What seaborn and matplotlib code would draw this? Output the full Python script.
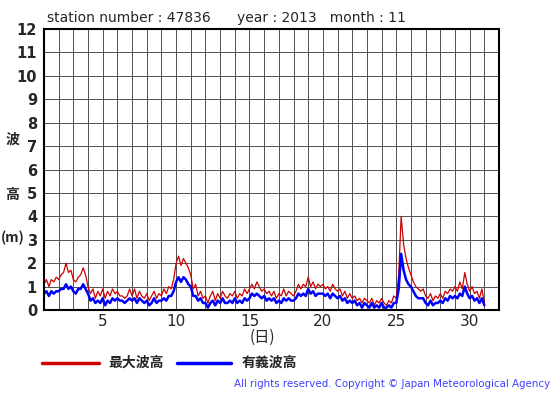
import numpy as np
import pandas as pd
import seaborn as sns
import matplotlib.pyplot as plt
from matplotlib.lines import Line2D

# 4-hourly wave heights (m), day 1 00h .. day 31 00h
max_wave = [
    1.1, 1.3, 1.0, 1.3, 1.2, 1.4,
    1.3, 1.5, 1.6, 2.0, 1.6, 1.7,
    1.3, 1.2, 1.4, 1.5, 1.8, 1.5,
    1.0, 0.7, 0.9, 0.5, 0.8, 0.6,
    0.9, 0.5, 0.8, 0.6, 0.9, 0.7,
    0.8, 0.6, 0.6, 0.5, 0.6, 0.9,
    0.6, 0.9, 0.5, 0.8, 0.6, 0.5,
    0.7, 0.4, 0.6, 0.8, 0.5, 0.7,
    0.6, 0.9, 0.7, 1.0, 0.9, 1.3,
    2.0, 2.3, 1.9, 2.2, 2.0, 1.8,
    1.5, 0.9, 1.1, 0.6, 0.8, 0.5,
    0.6, 0.3, 0.6, 0.8, 0.4, 0.7,
    0.5, 0.8, 0.6, 0.5, 0.7, 0.6,
    0.8, 0.5, 0.7, 0.6, 0.9, 0.7,
    0.9, 1.1, 0.9, 1.2, 1.0, 0.8,
    0.9, 0.7, 0.8, 0.6, 0.8, 0.5,
    0.7, 0.6, 0.9, 0.6, 0.8, 0.7,
    0.6, 0.8, 1.1, 0.9, 1.1, 1.0,
    1.4, 1.0, 1.2, 0.9, 1.1, 1.0,
    1.1, 0.9, 1.0, 0.8, 1.1, 0.9,
    0.8, 0.9, 0.6, 0.8, 0.5, 0.7,
    0.5, 0.6, 0.4, 0.5, 0.3, 0.5,
    0.4, 0.3, 0.5, 0.2, 0.4, 0.3,
    0.5, 0.3, 0.2, 0.4, 0.3, 0.6,
    0.5, 1.5, 4.0, 2.8, 2.2, 1.8,
    1.5, 1.2, 1.0, 0.9, 0.8, 0.9,
    0.6, 0.5, 0.7, 0.4, 0.6, 0.5,
    0.7, 0.5, 0.8, 0.7, 0.9, 0.8,
    1.0, 0.8, 1.2, 0.9, 1.6, 1.1,
    0.8, 1.0, 0.7, 0.8, 0.5, 0.9,
    0.3,
]
sig_wave = [
    0.7, 0.8, 0.6, 0.8, 0.7, 0.8,
    0.8, 0.9, 0.9, 1.1, 0.9, 1.0,
    0.8, 0.7, 0.9, 0.9, 1.1, 0.9,
    0.7, 0.4, 0.5, 0.3, 0.4, 0.3,
    0.5, 0.2, 0.4, 0.3, 0.5, 0.4,
    0.5, 0.4, 0.4, 0.3, 0.4, 0.5,
    0.4, 0.5, 0.3, 0.5, 0.4, 0.3,
    0.4, 0.2, 0.3, 0.5, 0.3, 0.4,
    0.4, 0.5, 0.4, 0.6, 0.6, 0.8,
    1.2, 1.4, 1.2, 1.4, 1.3, 1.1,
    1.0, 0.6, 0.6, 0.4, 0.5, 0.3,
    0.3, 0.1, 0.3, 0.4, 0.2, 0.4,
    0.3, 0.5, 0.3, 0.3, 0.4, 0.3,
    0.5, 0.3, 0.4, 0.3, 0.5, 0.4,
    0.5, 0.7, 0.6, 0.7, 0.6, 0.5,
    0.6, 0.4, 0.5, 0.4, 0.5, 0.3,
    0.4, 0.3, 0.5, 0.4, 0.5, 0.4,
    0.4, 0.5, 0.7, 0.6, 0.7, 0.6,
    0.9, 0.7, 0.8, 0.6, 0.7, 0.7,
    0.7, 0.6, 0.7, 0.5, 0.7, 0.6,
    0.5, 0.6, 0.4, 0.5, 0.3, 0.4,
    0.3, 0.4, 0.2, 0.3, 0.1, 0.3,
    0.2, 0.1, 0.3, 0.1, 0.2, 0.1,
    0.3, 0.1, 0.1, 0.2, 0.1, 0.3,
    0.3, 0.9, 2.4, 1.7, 1.3, 1.1,
    1.0, 0.8, 0.6, 0.5, 0.5, 0.5,
    0.3, 0.2, 0.4, 0.2, 0.3, 0.3,
    0.4, 0.3, 0.5, 0.4, 0.6, 0.5,
    0.6, 0.5, 0.7, 0.6, 1.0, 0.7,
    0.5, 0.6, 0.4, 0.5, 0.3, 0.5,
    0.2,
]
x_ticks = [5, 10, 15, 20, 25, 30]
y_ticks = list(range(0, 13))
title = "station number : 47836      year : 2013   month : 11"
legend_labels = ["最大波高", "有義波高"]
red, blue = "#cc0000", "#0000ff"

days = 1 + np.arange(len(max_wave)) / 6
df = pd.DataFrame({"day": days, "max": max_wave, "sig": sig_wave})

sns.set_style("white")
plt.rcParams["font.family"] = ["DejaVu Sans"]
jp = ["Noto Sans CJK JP", "DejaVu Sans"]

fig = plt.figure(figsize=(5.55, 3.95), dpi=100)
ax = fig.add_axes([44 / 555, 1 - 310 / 395, 455 / 555, 281 / 395])

sns.lineplot(data=df, x="day", y="max", color=red, lw=0.9, ax=ax)
sns.lineplot(data=df, x="day", y="sig", color=blue, lw=1.8, ax=ax)

ax.set_xlim(1, 32)
ax.set_ylim(0, 12)
ax.set_xticks(np.arange(1, 33), minor=True)
ax.set_xticks(x_ticks)
ax.set_yticks(y_ticks)
ax.grid(True, which="both", axis="x", color="#505050", lw=0.7)
ax.grid(True, which="major", axis="y", color="#505050", lw=0.7)
ax.set_axisbelow(True)
for s in ax.spines.values():
    s.set_color("black")
    s.set_linewidth(1.5)
ax.tick_params(axis="x", which="both", length=0, labelsize=11, pad=3)
ax.tick_params(axis="y", length=3, width=1, labelsize=10.5, pad=2)
for t in ax.get_yticklabels():
    t.set_fontweight("bold")
ax.set_xlabel("")
ax.set_ylabel("")

fig.text(47 / 555, 1 - 18 / 395, title, fontsize=10, va="center", ha="left")
fig.text(12 / 555, 1 - 140 / 395, "波", family=jp, fontsize=10, fontweight="bold", ha="center", va="center")
fig.text(12 / 555, 1 - 195 / 395, "高", family=jp, fontsize=10, fontweight="bold", ha="center", va="center")
fig.text(13 / 555, 1 - 238 / 395, "(m)", family=jp, fontsize=10, fontweight="bold", ha="center", va="center")
fig.text(262 / 555, 1 - 337 / 395, "(日)", family=jp, fontsize=11, ha="center", va="center")

# legend row
fig.add_artist(Line2D([42 / 555, 99 / 555], [1 - 363 / 395] * 2, color=red, lw=2.5))
fig.text(108 / 555, 1 - 363 / 395, legend_labels[0], family=jp, fontsize=10, fontweight="bold", va="center")
fig.add_artist(Line2D([177 / 555, 231 / 555], [1 - 363 / 395] * 2, color=blue, lw=2.5))
fig.text(242 / 555, 1 - 363 / 395, legend_labels[1], family=jp, fontsize=10, fontweight="bold", va="center")

fig.text(550 / 555, 1 - 384 / 395, "All rights reserved. Copyright © Japan Meteorological Agency",
         fontsize=7.4, color="#4040ff", ha="right", va="center")

fig.savefig("out.png", dpi=100)
